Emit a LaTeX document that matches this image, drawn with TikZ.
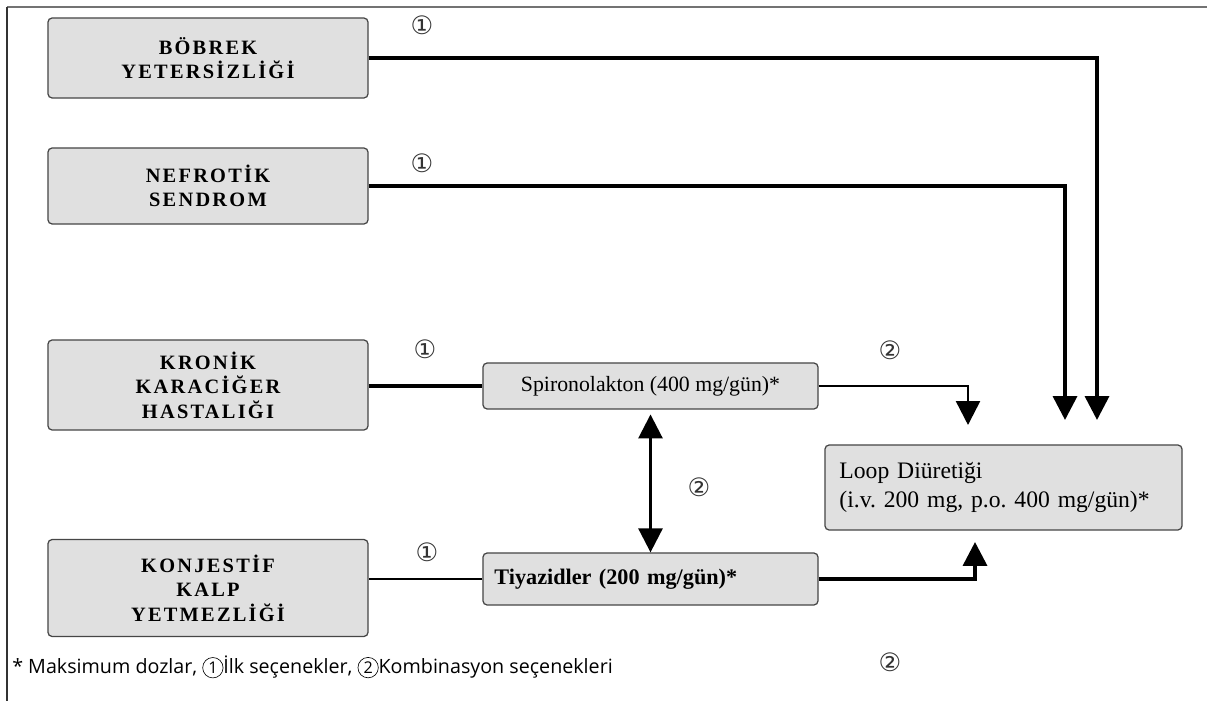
\documentclass[tikz,border=0pt]{standalone}
\usepackage{fontspec}
\setmainfont{Liberation Serif}
\newfontfamily\capsfont[LetterSpace=11]{Liberation Serif}
\newfontfamily\notefont{Open Sans}
\newfontfamily\symfont{DejaVu Sans}
\usetikzlibrary{arrows.meta}
\definecolor{boxgray}{RGB}{224,224,224}
\definecolor{edgegray}{RGB}{70,70,70}
\newcommand{\circno}[1]{\tikz[baseline=(c.base)]\node[circle,draw,line width=0.45pt,inner sep=0.9pt,
  minimum size=14.5pt,font=\notefont\fontsize{11.5}{10}\selectfont] (c) {#1};}
\frenchspacing

\begin{document}
\begin{tikzpicture}[x=0.025cm,y=-0.025cm,
    illness/.style={draw=edgegray,fill=boxgray,rounded corners=3pt,line width=0.9pt,
      minimum width=8cm,align=center,font=\capsfont\bfseries\fontsize{14.5}{17.5}\selectfont},
    drug/.style={draw=edgegray,fill=boxgray,rounded corners=3pt,line width=0.9pt,
      minimum width=8.375cm,font=\fontsize{15.5}{17}\selectfont},
    num/.style={font=\symfont\fontsize{18}{18}\selectfont,text=black!80},
    tip/.style={-{Triangle[width=17pt,length=17pt]}}]
    \useasboundingbox (0,0) rectangle (1207,701);
    % frame
    \draw[black!55,line width=1pt] (7,7) -- (1207,7);
    \draw[black!80,line width=0.8pt] (7,7) -- (7,701);
    % illnesses
    \node[illness,minimum height=2cm] (bobrek) at (208,58) {BÖBREK\\YETERSİZLİĞİ};
    \node[illness,minimum height=1.9cm] (nefrotik) at (208,186) {NEFROTİK\\SENDROM};
    \node[illness,minimum height=2.25cm] (kronik) at (208,385) {KRONİK\\KARACİĞER\\HASTALIĞI};
    \node[illness,minimum height=2.425cm] (konjestif) at (208,588) {KONJESTİF\\KALP\\YETMEZLİĞİ};
    % drugs
    \node[drug,minimum height=1.15cm] (spiro) at (650.5,386) {Spironolakton (400 mg/gün)*};
    \node[drug,minimum height=1.3cm,text width=7.8cm,align=left,font=\bfseries\fontsize{15.8}{17}\selectfont]
      (tiyazid) at (650.5,579) {Tiyazidler (200 mg/gün)*};
    \node[drug,minimum width=8.925cm,minimum height=2.125cm,text width=8.2cm,align=left,
      font=\fontsize{16.8}{21}\selectfont] (loop) at (1003.5,487.5) {Loop Diüretiği\\(i.v. 200 mg, p.o. 400 mg/gün)*};
    % arrow ends
    \coordinate (inB) at (1097,420);
    \coordinate (inN) at (1065,420);
    \coordinate (inS) at (968,425);
    \coordinate (inT) at (975,542);
    % connectors
    \draw[tip,line width=2.6pt] (bobrek.east) -| (inB);
    \draw[tip,line width=2.6pt] (nefrotik.east) -| (inN);
    \draw[line width=2.2pt] (kronik.east |- spiro.west) -- (spiro.west);
    \draw[tip,line width=1.8pt] (spiro.east) -| (inS);
    \draw[line width=1.3pt] (tiyazid.west) -- (tiyazid.west -| konjestif.east);
    \draw[tip,line width=2.6pt] (tiyazid.east) -| (inT);
    \draw[{Triangle[width=17pt,length=17pt]}-{Triangle[width=17pt,length=17pt]},line width=2pt,
      shorten <=0.12cm] (spiro.south) -- (tiyazid.north);
    % option numbers
    \node[num] (n1a) at (422,25) {①};
    \node[num] (n1b) at (422,163) {①};
    \node[num] (n1c) at (425,349) {①};
    \node[num] (n1d) at (427,552) {①};
    \node[num] (n2a) at (890,350) {②};
    \node[num] (n2b) at (699,487) {②};
    \node[num] (n2c) at (890,662) {②};
    % footnote
    \node[anchor=west,inner sep=0pt,font=\notefont\fontsize{14}{16}\selectfont] (note) at (12,667)
      {* Maksimum dozlar, \circno{1}İlk seçenekler, \circno{2}Kombinasyon seçenekleri};
\end{tikzpicture}
\end{document}
